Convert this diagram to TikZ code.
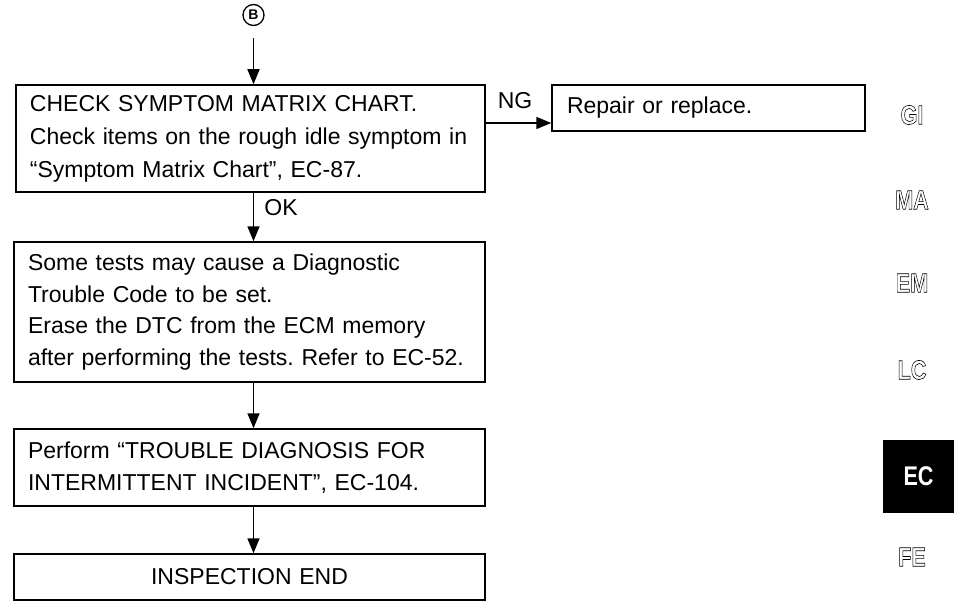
\documentclass[tikz,border=0pt]{standalone}
\usepackage{fontspec}
\usepackage{graphicx}
\setmainfont{Liberation Sans}
\usetikzlibrary{arrows.meta}
\frenchspacing
\newcommand{\outl}[1]{\special{pdf:literal direct 1 Tr 0.6 w}#1\special{pdf:literal direct 0 Tr}}
\begin{document}
\begin{tikzpicture}[x=1pt,y=-1pt,
  box/.style={draw, line width=1.5pt, rectangle, inner xsep=14pt, inner ysep=0pt, align=left},
  arr/.style={line width=1.6pt, -{Triangle[length=15pt,width=12pt]}},
  lab/.style={font=\fontsize{23}{26}\selectfont, inner sep=0pt},
  tab/.style={font=\fontsize{27}{27}\selectfont\bfseries, inner sep=0pt}]
\useasboundingbox (0,0) rectangle (954,602);

\node[circle, draw, line width=1.3pt, inner sep=0pt, minimum size=21pt, font=\fontsize{14}{14}\selectfont\bfseries] (B) at (253.5,15) {B};
\coordinate (col) at (253.5,0);

\node[box, text width=441pt, minimum height=107pt, font=\fontsize{23}{33}\selectfont] (b1) at (250.5,138.5)
  {CHECK SYMPTOM MATRIX CHART.\\Check items on the rough idle symptom in\\“Symptom Matrix Chart”, EC-87.};

\node[box, inner xsep=15pt, text width=283pt, minimum height=46pt, font=\fontsize{23}{33}\selectfont] (ng) at (708.5,108)
  {Repair or replace.};

\node[box, text width=443pt, minimum height=140pt, font=\fontsize{23}{31.5}\selectfont] (b2) at (249.5,312)
  {Some tests may cause a Diagnostic\\Trouble Code to be set.\\Erase the DTC from the ECM memory\\after performing the tests. Refer to EC-52.};

\node[box, text width=443pt, minimum height=77pt, font=\fontsize{23}{32}\selectfont] (b3) at (249.5,467.5)
  {Perform “TROUBLE DIAGNOSIS FOR\\INTERMITTENT INCIDENT”, EC-104.};

\node[box, text width=443pt, minimum height=46pt, align=center, font=\fontsize{23}{32}\selectfont] (b4) at (249.5,577)
  {INSPECTION END\hspace*{30pt}};

\draw[arr] ([yshift=-12pt]B.south) -- (b1.north -| col);
\draw[arr] (b1.south -| col) -- (b2.north -| col);
\draw[arr] (b2.south -| col) -- (b3.north -| col);
\draw[arr] (b3.south -| col) -- (b4.north -| col);
\coordinate (ngy) at (0,123);
\draw[arr] (b1.east |- ngy) -- (ng.west |- ngy);

\node[lab] (nglab) at (515,101) {NG};
\node[lab] (oklab) at (281,208) {OK};

\node[tab] (gi) at (912,115) {\scalebox{0.8}[1]{\outl{GI}}};
\node[tab] (ma) at (912,200) {\scalebox{0.8}[1]{\outl{MA}}};
\node[tab] (em) at (912,283) {\scalebox{0.8}[1]{\outl{EM}}};
\node[tab] (lc) at (912,370) {\scalebox{0.8}[1]{\outl{LC}}};
\node[tab, fill=black, text=white, minimum width=71pt, minimum height=73pt] (ec) at (918.5,476.5) {\scalebox{0.8}[1]{EC}};
\node[tab] (fe) at (912,557) {\scalebox{0.8}[1]{\outl{FE}}};
\end{tikzpicture}
\end{document}
